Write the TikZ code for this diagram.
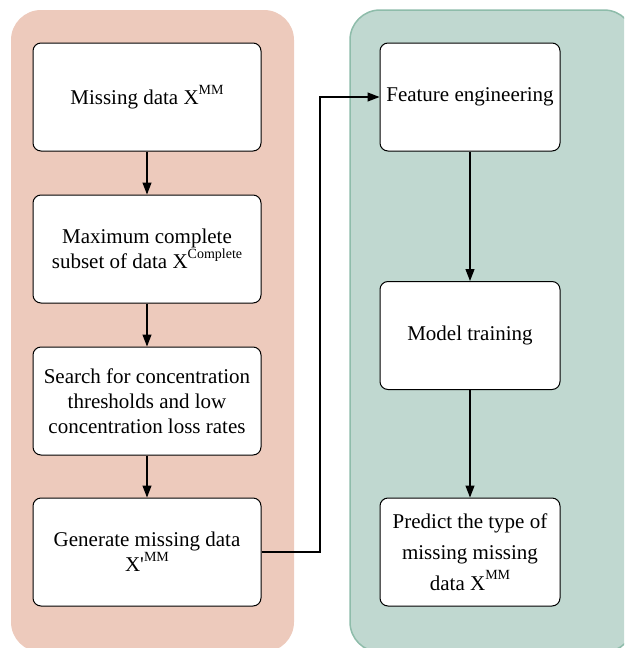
\documentclass[tikz,border=0pt]{standalone}
\usepackage{fontspec}
\setmainfont{Liberation Serif}[Ligatures=TeXOff]
\usetikzlibrary{arrows.meta}
\definecolor{leftfill}{RGB}{237,202,188}
\definecolor{rightfill}{RGB}{192,216,208}
\definecolor{rightedge}{RGB}{142,188,170}
\newcommand\supx[1]{\raisebox{0.5em}{\fontsize{14}{14}\selectfont #1}}
\begin{document}
\begin{tikzpicture}[x=1pt,y=-1pt,
  stepbox/.style={draw=black, line width=1pt, fill=white, rounded corners=8pt,
    minimum height=108pt, align=center, inner sep=2pt,
    font=\fontsize{21}{25}\selectfont},
  lbox/.style={stepbox, minimum width=228pt},
  rbox/.style={stepbox, minimum width=180pt},
  arr/.style={line width=1.2pt, -{Triangle[length=12pt,width=9pt]}}]
\useasboundingbox (0,0) rectangle (624,648);
\begin{scope}
\clip (0,0) rectangle (624,648);
\fill[leftfill, rounded corners=30pt] (11,10) rectangle (294,652);
\draw[fill=rightfill, draw=rightedge, line width=1.5pt, rounded corners=30pt] (350,10) rectangle (634,652);
\end{scope}
\node[lbox] (b1) at (147,97) {Missing data X\supx{MM}};
\node[lbox] (b2) at (147,249) {Maximum complete\\subset of data X\supx{Complete}};
\node[lbox] (b3) at (147,401) {Search for concentration\\thresholds and low\\concentration loss rates};
\node[lbox] (b4) at (147,552) {Generate missing data\\X'\supx{MM}};
\node[rbox] (r1) at (470,97) {Feature engineering};
\node[rbox] (r2) at (470,335.5) {Model training};
\node[rbox, font=\fontsize{21}{31}\selectfont] (r3) at (470,552) {Predict the type of\\missing missing\\data X\supx{MM}};
\coordinate (bend) at (320,552);
\draw[arr] (b1) -- (b2);
\draw[arr] (b2) -- (b3);
\draw[arr] (b3) -- (b4);
\draw[arr] (r1) -- (r2);
\draw[arr] (r2) -- (r3);
\draw[arr] (b4.east) -- (bend) |- (r1.west);
\end{tikzpicture}
\end{document}
